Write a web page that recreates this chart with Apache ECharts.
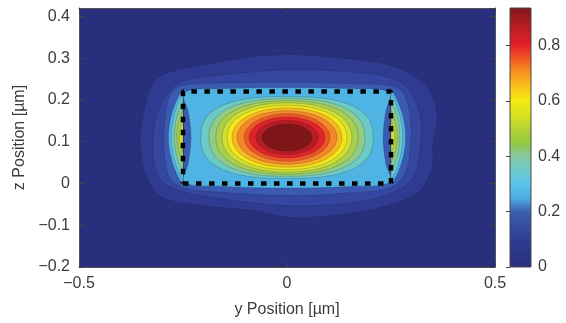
<!DOCTYPE html>
<html>
<head>
<meta charset="utf-8">
<script src="https://cdn.jsdelivr.net/npm/echarts@6/dist/echarts.min.js"></script>
<style>
html, body { margin: 0; padding: 0; background: #fff; }
#chart { width: 566px; height: 323px; }
</style>
</head>
<body>
<div id="chart"></div>
<script>
// contour levels of the normalised field and the colour of each band
const levels = [0, 0.06, 0.12, 0.18, 0.24, 0.30, 0.36, 0.42, 0.48, 0.54, 0.60, 0.66, 0.72, 0.78, 0.84, 0.90];
const bandColors = ['#28307d', '#2f3b90', '#3546a0', '#3b5ab1', '#4fb4e4', '#6ccac6', '#90cc86', '#a9cf4c',
  '#d0df33', '#f4e81b', '#f8b820', '#f3882a', '#ec5624', '#e0232a', '#b71d24', '#7e1517'];

// outer contours in the cladding, [y, z] in µm
const contour06 = [[-0.346, 0.164], [-0.322, 0.241], [-0.281, 0.267], [-0.202, 0.284], [-0.082, 0.304], [0.024, 0.308],
  [0.120, 0.301], [0.224, 0.289], [0.288, 0.267], [0.337, 0.231], [0.361, 0.164], [0.351, 0.096], [0.349, 0.039],
  [0.320, -0.017], [0.264, -0.046], [0.159, -0.070], [0.014, -0.082], [-0.082, -0.065], [-0.202, -0.053],
  [-0.298, -0.034], [-0.337, 0.014], [-0.353, 0.096]];
const contour12 = [[-0.313, 0.164], [-0.281, 0.224], [-0.240, 0.248], [-0.082, 0.267], [0.014, 0.272], [0.159, 0.267],
  [0.240, 0.255], [0.288, 0.231], [0.320, 0.164], [0.320, 0.087], [0.303, 0.014], [0.255, -0.022], [0.159, -0.046],
  [0, -0.053], [-0.161, -0.036], [-0.274, -0.012], [-0.313, 0.024], [-0.322, 0.096]];
const contour18 = [[-0.296, 0.104], [-0.291, 0.176], [-0.276, 0.219], [-0.245, 0.236], [-0.113, 0.241], [0.007, 0.243],
  [0.151, 0.239], [0.248, 0.234], [0.279, 0.217], [0.296, 0.164], [0.296, 0.080], [0.281, 0.019], [0.248, -0.010],
  [0.127, -0.024], [0, -0.029], [-0.137, -0.022], [-0.245, -0.012], [-0.281, 0.012], [-0.293, 0.055]];
const contour24 = [[-0.247, 0.218], [-0.15, 0.227], [0, 0.229], [0.15, 0.227], [0.247, 0.218], [0.237, 0.17],
  [0.231, 0.11], [0.237, 0.05], [0.247, 0.003], [0.15, -0.007], [0, -0.011], [-0.15, -0.007], [-0.247, 0.003],
  [-0.237, 0.05], [-0.231, 0.11], [-0.237, 0.17]];

// field lobes just outside the sidewalls
const lobeLevels = [0.24, 0.30, 0.36, 0.42, 0.48];
const lobeTop = [0.228, 0.216, 0.198, 0.175, 0.150];
const lobeBottom = [-0.006, 0.006, 0.026, 0.050, 0.075];
const lobeLeftReach = [-0.285, -0.278, -0.271, -0.265, -0.259];
const lobeRightReach = [0.285, 0.278, 0.271, 0.265, 0.259];

// contours round the peak inside the core (half widths, half heights, squareness)
const peak = [0, 0.11];
const ellipseLevels = [0.30, 0.36, 0.42, 0.48, 0.54, 0.60, 0.66, 0.72, 0.78, 0.84, 0.90];
const ellipseHalfY = [0.207, 0.1875, 0.171, 0.156, 0.144, 0.132, 0.120, 0.103, 0.091, 0.075, 0.060];
const ellipseHalfZ = [0.098, 0.093, 0.088, 0.083, 0.077, 0.071, 0.064, 0.057, 0.049, 0.041, 0.0325];
const ellipsePower = [2.6, 2.4, 2.3, 2.2, 2.15, 2.1, 2.05, 2.0, 2.0, 2.0, 2.0];

// waveguide core (dashed box)
const coreY = [-0.25, 0.25];
const coreZ = [0, 0.22];

// colour bar
const colorbarMax = 0.935;
const colorbarStops = [0, 0.1, 0.2, 0.25, 0.3, 0.35, 0.4, 0.45, 0.5, 0.55, 0.6, 0.65, 0.7, 0.75, 0.8, 0.85, 0.9, 0.935];
const colorbarColors = ['#28307e', '#2f3c93', '#3c5fae', '#4dace0', '#5bc4ee', '#6fcac8', '#86c8a0', '#95c840',
  '#b6d433', '#d9e21f', '#f3eb14', '#f9c21b', '#f7941d', '#f15a24', '#e3202a', '#c51e24', '#9d1a1e', '#7c1517'];

const shapes = [];
[[0.06, contour06], [0.12, contour12], [0.18, contour18], [0.24, contour24]].forEach(function (c) {
  shapes.push({ kind: 'poly', level: c[0], pts: c[1] });
});
lobeLevels.forEach(function (lv, i) {
  shapes.push({ kind: 'lobe', level: lv, wall: coreY[0], reach: lobeLeftReach[i], top: lobeTop[i], bottom: lobeBottom[i] });
  shapes.push({ kind: 'lobe', level: lv, wall: coreY[1], reach: lobeRightReach[i], top: lobeTop[i], bottom: lobeBottom[i] });
});
ellipseLevels.forEach(function (lv, i) {
  shapes.push({ kind: 'oval', level: lv, hy: ellipseHalfY[i], hz: ellipseHalfZ[i], n: ellipsePower[i] });
});
shapes.sort(function (a, b) { return a.level - b.level; });

const lineStyle = { stroke: 'rgba(25,25,45,0.35)', lineWidth: 0.6 };

function renderContour(params, api) {
  const s = shapes[params.dataIndex];
  const style = Object.assign({ fill: bandColors[levels.indexOf(s.level)] }, lineStyle);
  if (s.kind === 'poly') {
    return { type: 'polygon', shape: { points: s.pts.map(function (p) { return api.coord(p); }), smooth: 0.35 }, style: style };
  }
  if (s.kind === 'oval') {
    // superellipse outline through the axis scales
    const pts = [];
    for (let i = 0; i < 72; i++) {
      const a = i / 72 * 2 * Math.PI;
      const c = Math.cos(a), sn = Math.sin(a);
      pts.push(api.coord([
        peak[0] + s.hy * Math.sign(c) * Math.pow(Math.abs(c), 2 / s.n),
        peak[1] + s.hz * Math.sign(sn) * Math.pow(Math.abs(sn), 2 / s.n)
      ]));
    }
    return { type: 'polygon', shape: { points: pts }, style: style };
  }
  // lobe: quadratic curve from wall top to wall bottom, closed along the wall
  const a = api.coord([s.wall, s.top]);
  const b = api.coord([s.wall, s.bottom]);
  const ctrl = api.coord([2 * s.reach - s.wall, (s.top + s.bottom) / 2]);
  const pts = [];
  for (let i = 0; i <= 20; i++) {
    const t = i / 20;
    const u = 1 - t;
    pts.push([u * u * a[0] + 2 * u * t * ctrl[0] + t * t * b[0], u * u * a[1] + 2 * u * t * ctrl[1] + t * t * b[1]]);
  }
  return { type: 'polygon', shape: { points: pts }, style: style };
}

function renderColorbar(params, api) {
  const p0 = api.coord([0, 0]);
  const p1 = api.coord([1, colorbarMax]);
  return {
    type: 'rect',
    shape: { x: p0[0], y: p1[1], width: p1[0] - p0[0], height: p0[1] - p1[1] },
    style: {
      fill: new echarts.graphic.LinearGradient(0, 1, 0, 0, colorbarStops.map(function (v, i) {
        return { offset: v / colorbarMax, color: colorbarColors[i] };
      })),
      stroke: '#4a4a4a',
      lineWidth: 1
    }
  };
}

const fmt = function (v) {
  const r = Math.round(v * 10) / 10;
  return String(r).replace('-', '\u2212');
};
const textColor = '#3c3c3c';
const font = 'Liberation Sans, Arial, sans-serif';
const tick = { show: true, inside: true, length: 5, lineStyle: { color: '#444' } };
const axisLine = { show: true, onZero: false, lineStyle: { color: '#555', width: 1 } };

const myChart = echarts.init(document.getElementById('chart'));
myChart.setOption({
  animation: false,
  textStyle: { fontFamily: font },
  grid: [
    { left: 79, top: 8, right: 71, bottom: 56, show: true, backgroundColor: bandColors[0], borderWidth: 0 },
    { left: 510, top: 8, width: 21, bottom: 56 }
  ],
  xAxis: [
    {
      type: 'value', gridIndex: 0, min: -0.5, max: 0.5, interval: 0.5, z: 6,
      axisLine: axisLine, axisTick: tick, splitLine: { show: false },
      axisLabel: { formatter: fmt, fontSize: 16, color: textColor, margin: 9 },
      name: 'y Position [\u00b5m]', nameLocation: 'middle', nameGap: 35,
      nameTextStyle: { fontSize: 16, color: textColor }
    },
    {
      type: 'value', gridIndex: 0, position: 'top', min: -0.5, max: 0.5, interval: 0.5, z: 6,
      axisLine: axisLine, axisTick: tick, axisLabel: { show: false }, splitLine: { show: false }
    },
    {
      type: 'value', gridIndex: 1, min: 0, max: 1, show: false
    }
  ],
  yAxis: [
    {
      type: 'value', gridIndex: 0, min: -0.2, max: 0.42, interval: 0.1, z: 6,
      axisLine: axisLine, axisTick: tick, splitLine: { show: false },
      axisLabel: { formatter: fmt, fontSize: 16, color: textColor, margin: 9, showMaxLabel: false },
      name: 'z Position [\u00b5m]', nameLocation: 'middle', nameGap: 47, nameRotate: 90,
      nameTextStyle: { fontSize: 16, color: textColor }
    },
    {
      type: 'value', gridIndex: 0, position: 'right', min: -0.2, max: 0.42, interval: 0.1, z: 6,
      axisLine: axisLine, axisTick: tick, axisLabel: { show: false }, splitLine: { show: false }
    },
    {
      type: 'value', gridIndex: 1, position: 'right', min: 0, max: colorbarMax, interval: 0.2, z: 6,
      axisLine: { show: false }, axisTick: { show: true, inside: true, length: 4, lineStyle: { color: '#444' } },
      splitLine: { show: false },
      axisLabel: { formatter: fmt, fontSize: 16, color: textColor, margin: 7, showMaxLabel: false }
    }
  ],
  series: [
    {
      type: 'custom', xAxisIndex: 0, yAxisIndex: 0, clip: true, z: 2,
      renderItem: renderContour,
      data: shapes.map(function (s, i) { return [s.level, i]; })
    },
    {
      type: 'line', xAxisIndex: 0, yAxisIndex: 0, z: 4, symbol: 'none', silent: true,
      lineStyle: { color: '#000', width: 4.5, type: [5.5, 7.5], cap: 'butt' },
      data: [[coreY[0], coreZ[0]], [coreY[1], coreZ[0]], [coreY[1], coreZ[1]], [coreY[0], coreZ[1]], [coreY[0], coreZ[0]]]
    },
    {
      type: 'custom', xAxisIndex: 2, yAxisIndex: 2, z: 2,
      renderItem: renderColorbar,
      data: [[0, 0]]
    }
  ]
});
</script>
</body>
</html>
